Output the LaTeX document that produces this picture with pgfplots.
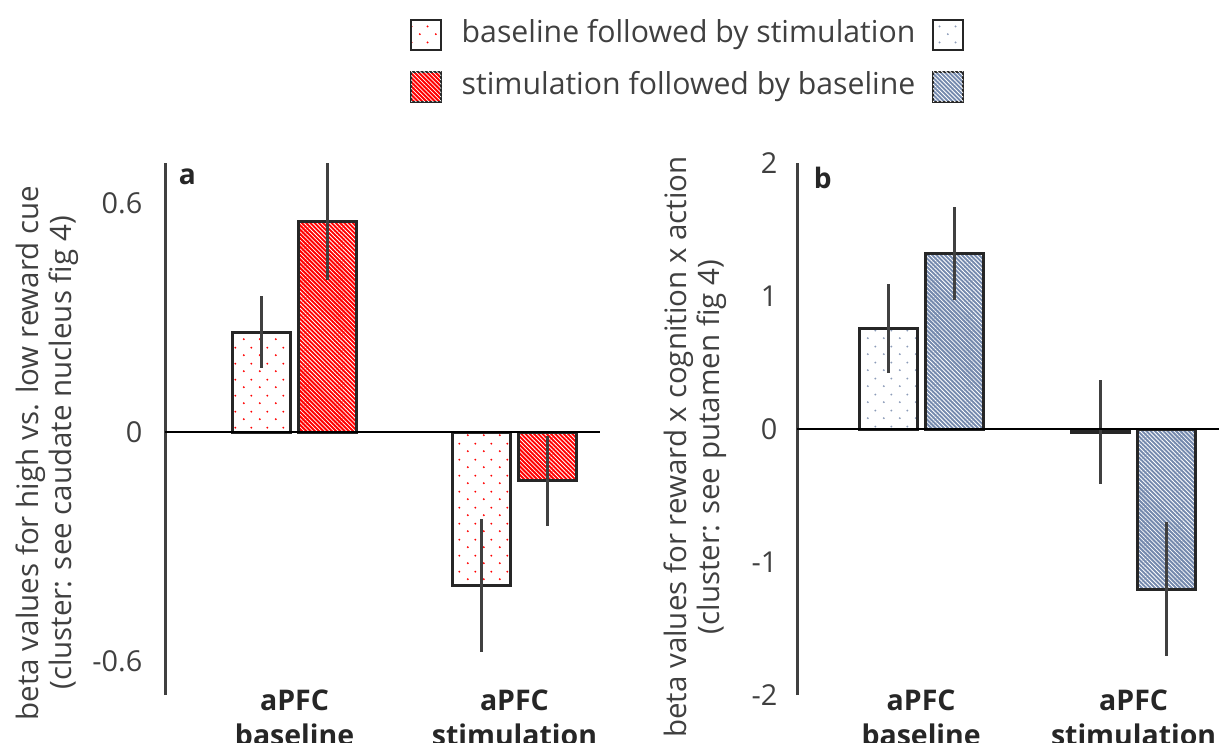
\documentclass[border=0pt]{standalone}
\usepackage{pgfplots}
\pgfplotsset{compat=1.18}
\usepackage{fontspec}
\setmainfont{Open Sans}
\usetikzlibrary{patterns.meta}
\definecolor{txt}{HTML}{404040}
\definecolor{bgblue}{HTML}{7489AD}
\definecolor{dotblue}{HTML}{8C9CB8}
\tikzdeclarepattern{
  name=sdots, type=uncolored,
  bottom left={(0,0)}, top right={(1.6mm,1.6mm)},
  tile size={(1.6mm,1.6mm)},
  code={\fill (0.4mm,0.4mm) circle (0.11mm); \fill (1.2mm,1.2mm) circle (0.11mm);}
}
\tikzset{hatch/.style={postaction={pattern={Lines[angle=-45,distance=0.3mm,line width=0.08mm]}, pattern color=white}}}
\pgfplotsset{
  panel/.style={
    scale only axis, height=53.2mm,
    axis y line*=left, axis x line*=bottom,
    x axis line style={draw=none},
    y axis line style={line width=0.3mm, draw=txt},
    major tick length=0pt,
    xtick={1,2},
    xticklabels={{aPFC\\baseline},{aPFC\\stimulation}},
    xticklabel style={align=center, font=\bfseries\fontsize{8.1}{10}\selectfont, text=black!85, inner sep=0pt, anchor=north, yshift=0.6mm},
    yticklabel style={font=\fontsize{8.2}{10}\selectfont, text=txt, inner sep=0pt, anchor=east},
    ylabel style={font=\fontsize{8.4}{9.4}\selectfont, text=txt, align=center, anchor=south},
    ybar, bar width=5.8mm,
    clip=false,
  },
  bardraw/.style={draw=black!85, line width=0.3mm,
    error bars/y dir=both, error bars/y explicit, error bars/error mark=none,
    error bars/error bar style={line width=0.3mm, draw=black!75}},
}
\begin{document}
\begin{tikzpicture}
\path[use as bounding box, clip] (0,0) rectangle (121.9mm,74.2mm);
% legend
\begin{scope}[font=\fontsize{8.6}{10}\selectfont, text=txt]
\draw[black!85, line width=0.2mm, pattern=sdots, pattern color=red] (41.1mm,69.2mm) rectangle (44.1mm,72.2mm);
\draw[black!85, line width=0.2mm, fill=red, hatch] (41.1mm,64.0mm) rectangle (44.1mm,67.0mm);
\draw[black!85, line width=0.2mm, pattern=sdots, pattern color=dotblue] (93.3mm,69.2mm) rectangle (96.3mm,72.2mm);
\draw[black!85, line width=0.2mm, fill=bgblue, hatch] (93.3mm,64.0mm) rectangle (96.3mm,67.0mm);
\node[anchor=west, inner sep=0pt] at (46.1mm,70.7mm) {baseline followed by stimulation};
\node[anchor=west, inner sep=0pt] at (46.1mm,65.5mm) {stimulation followed by baseline};
\end{scope}
% panel a
\begin{axis}[panel, at={(16.5mm,4.7mm)}, anchor=south west, width=43.5mm,
  xmin=0.411, xmax=2.389, ymin=-0.689, ymax=0.705,
  ytick={-0.6,0,0.6}, yticklabels={-0.6,0,0.6},
  yticklabel style={xshift=-2.2mm},
  ylabel={beta values for high vs. low reward cue\\(cluster: see caudate nucleus fig 4)},
  ylabel style={at={(axis description cs:-0.17,0.455)}}]
\addplot[bardraw, bar shift=-3.3mm, pattern=sdots, pattern color=red]
  coordinates {(1,0.262) +- (0,0.095) (2,-0.402) +- (0,0.174)};
\addplot[bardraw, bar shift=3.3mm, fill=red, hatch]
  coordinates {(1,0.551) +- (0,0.153) (2,-0.128) +- (0,0.118)};
\draw[black, line width=0.25mm] (axis cs:0.411,0) -- (axis cs:2.389,0);
\node[anchor=base west, font=\bfseries\fontsize{8}{9}\selectfont, text=black!85, inner sep=0pt] at (rel axis cs:0.03,0.959) {a};
\end{axis}
% panel b
\begin{axis}[panel, at={(79.7mm,4.7mm)}, anchor=south west, width=42.2mm,
  xmin=0.416, xmax=2.402, ymin=-2, ymax=2,
  ytick={-2,-1,0,1,2}, yticklabels={-2,-1,0,1,2},
  yticklabel style={xshift=-1.9mm},
  ylabel={beta values for reward x cognition x action\\(cluster: see putamen fig 4)},
  ylabel style={at={(axis description cs:-0.137,0.466)}}]
\addplot[bardraw, bar shift=-3.3mm, pattern=sdots, pattern color=dotblue]
  coordinates {(1,0.755) +- (0,0.335) (2,-0.025) +- (0,0.39)};
\addplot[bardraw, bar shift=3.3mm, fill=bgblue, hatch]
  coordinates {(1,1.32) +- (0,0.35) (2,-1.205) +- (0,0.505)};
\draw[black, line width=0.25mm] (axis cs:0.416,0) -- (axis cs:2.402,0);
\node[anchor=base west, font=\bfseries\fontsize{8}{9}\selectfont, text=black!85, inner sep=0pt] at (rel axis cs:0.038,0.953) {b};
\end{axis}
\end{tikzpicture}
\end{document}
